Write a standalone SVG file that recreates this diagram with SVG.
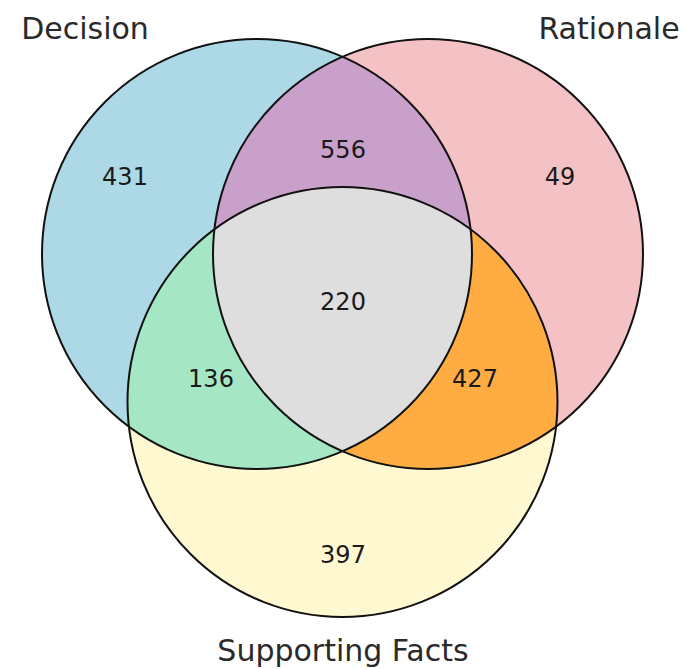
<svg xmlns="http://www.w3.org/2000/svg" width="686" height="669" viewBox="0 0 686 669">
  <style>
    .lbl { font-family: "DejaVu Sans", sans-serif; font-size: 30px; fill: #2a2a2a; text-anchor: middle; }
    .num { font-family: "DejaVu Sans", sans-serif; font-size: 24px; fill: #1a1a1a; text-anchor: middle; }
    .edge { fill: none; stroke: #111; stroke-width: 2; }
  </style>
  <defs>
    <circle id="cD" cx="257" cy="254" r="215"/>
    <circle id="cR" cx="428" cy="254" r="215"/>
    <circle id="cS" cx="342.5" cy="402" r="215"/>
    <clipPath id="clipD"><use href="#cD"/></clipPath>
    <clipPath id="clipR"><use href="#cR"/></clipPath>
    <clipPath id="clipS"><use href="#cS"/></clipPath>
  </defs>
  <rect width="686" height="669" fill="#ffffff"/>

  <g id="decision">
    <use href="#cD" fill="#ADD8E6"/>
  </g>
  <g id="rationale">
    <use href="#cR" fill="#F4C2C4"/>
  </g>
  <g id="supporting-facts">
    <use href="#cS" fill="#FFF8D1"/>
  </g>
  <g id="decision-rationale" clip-path="url(#clipD)">
    <use href="#cR" fill="#C8A0CA"/>
  </g>
  <g id="decision-supporting" clip-path="url(#clipD)">
    <use href="#cS" fill="#A5E6C5"/>
  </g>
  <g id="rationale-supporting" clip-path="url(#clipR)">
    <use href="#cS" fill="#FFAD42"/>
  </g>
  <g id="all-three" clip-path="url(#clipD)">
    <g clip-path="url(#clipR)">
      <use href="#cS" fill="#DEDEDE"/>
    </g>
  </g>

  <g id="outlines">
    <use href="#cD" class="edge"/>
    <use href="#cR" class="edge"/>
    <use href="#cS" class="edge"/>
  </g>

  <g id="labels">
    <text class="lbl" x="85" y="39">Decision</text>
    <text class="lbl" x="609" y="39">Rationale</text>
    <text class="lbl" x="343" y="661">Supporting Facts</text>
  </g>
  <g id="counts">
    <text class="num" x="125" y="185">431</text>
    <text class="num" x="343" y="158">556</text>
    <text class="num" x="560" y="185">49</text>
    <text class="num" x="343" y="310">220</text>
    <text class="num" x="211" y="387">136</text>
    <text class="num" x="475" y="387">427</text>
    <text class="num" x="343" y="563">397</text>
  </g>
</svg>
